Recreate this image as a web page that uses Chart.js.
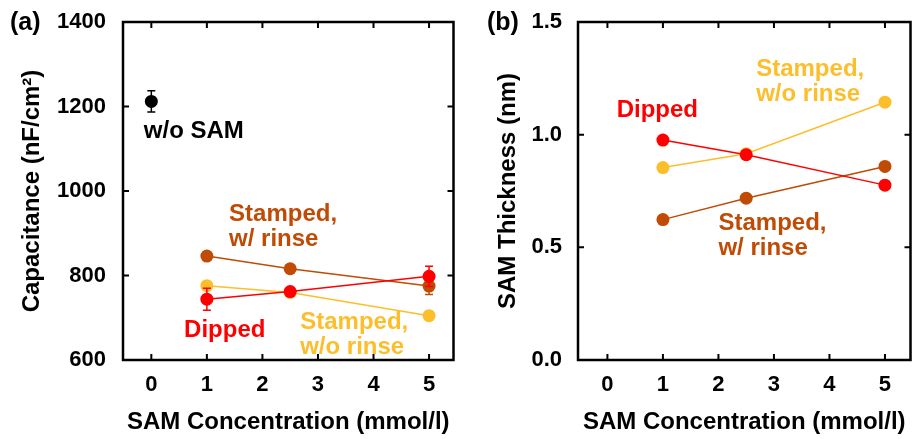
<!DOCTYPE html>
<html lang="en">
<head>
  <meta charset="UTF-8" />
  <title>SAM capacitance and thickness</title>
  <script src="https://cdn.jsdelivr.net/npm/chart.js"></script>
  <style>
    body { margin: 0; background: #fff; }
    #wrap { position: relative; width: 917px; height: 439px; }
    .panel { position: absolute; top: 0; height: 439px; }
    #panelA { left: 0; width: 460px; }
    #panelB { left: 460px; width: 457px; }
  </style>
</head>
<body>
  <div id="wrap">
    <div class="panel" id="panelA"><canvas id="capChart"></canvas></div>
    <div class="panel" id="panelB"><canvas id="thickChart"></canvas></div>
  </div>

  <script>
    // SAM concentration (mmol/l) for the three preparation methods
    const concentrations = [1, 2.5, 5];
    const xTicks = [0, 1, 2, 3, 4, 5];

    // (a) capacitance, nF/cm2
    const bareX = [0];
    const bareCap = [1212];
    const bareCapErr = [25];
    const dippedCap = [744, 762, 798];
    const dippedCapErr = [26, 0, 24];
    const rinsedCap = [846, 816, 775];
    const rinsedCapErr = [0, 0, 20];
    const unrinsedCap = [776, 760, 705];
    const unrinsedCapErr = [0, 0, 0];
    const capTicks = [600, 800, 1000, 1200, 1400];

    // (b) SAM thickness, nm
    const dippedThick = [0.976, 0.911, 0.776];
    const rinsedThick = [0.623, 0.718, 0.859];
    const unrinsedThick = [0.854, 0.915, 1.144];
    const thickTicks = [0, 0.5, 1.0, 1.5];

    const RED = "#ff0000";
    const BROWN = "#c04b05";
    const YELLOW = "#fdbe2c";
    const FONT = "'Liberation Sans', Arial, sans-serif";

    Chart.defaults.font.family = FONT;
    Chart.defaults.color = "#000";

    const pts = (xs, ys) => xs.map((x, i) => ({ x: x, y: ys[i] }));

    function series(data, color, errs) {
      return {
        data: data,
        borderColor: color,
        backgroundColor: color,
        borderWidth: 1.5,
        pointRadius: 6.5,
        pointBorderWidth: 0,
        pointHoverRadius: 6.5,
        errorBars: errs || null
      };
    }

    // error bars, drawn right after their own dataset
    const errorBarPlugin = {
      id: "errorBars",
      afterDatasetDraw(chart, args) {
        const ds = chart.data.datasets[args.index];
        if (!ds.errorBars) return;
        const { ctx, scales: { x, y } } = chart;
        ctx.save();
        ctx.strokeStyle = ds.borderColor;
        ctx.lineWidth = 1.5;
        ds.data.forEach((p, i) => {
          const e = ds.errorBars[i];
          if (!e) return;
          const px = x.getPixelForValue(p.x);
          const top = y.getPixelForValue(p.y + e);
          const bot = y.getPixelForValue(p.y - e);
          ctx.beginPath();
          ctx.moveTo(px, top); ctx.lineTo(px, bot);
          ctx.moveTo(px - 4, top); ctx.lineTo(px + 4, top);
          ctx.moveTo(px - 4, bot); ctx.lineTo(px + 4, bot);
          ctx.stroke();
        });
        ctx.restore();
      }
    };

    // closed frame with inward ticks on all four sides
    const framePlugin = {
      id: "frame",
      afterDraw(chart) {
        const { ctx, chartArea: a, scales: { x, y } } = chart;
        ctx.save();
        ctx.strokeStyle = "#000";
        ctx.lineWidth = 2;
        ctx.beginPath();
        x.ticks.forEach(t => {
          const px = x.getPixelForValue(t.value);
          ctx.moveTo(px, a.bottom); ctx.lineTo(px, a.bottom - 6);
          ctx.moveTo(px, a.top); ctx.lineTo(px, a.top + 6);
        });
        y.ticks.forEach(t => {
          const py = y.getPixelForValue(t.value);
          ctx.moveTo(a.left, py); ctx.lineTo(a.left + 6, py);
          ctx.moveTo(a.right, py); ctx.lineTo(a.right - 6, py);
        });
        ctx.stroke();
        ctx.lineWidth = 2.5;
        ctx.strokeRect(a.left, a.top, a.right - a.left, a.bottom - a.top);
        ctx.restore();
      }
    };

    // text labels next to the series, anchored in data units
    const notesPlugin = {
      id: "notes",
      afterDatasetsDraw(chart, args, opts) {
        const { ctx, scales: { x, y } } = chart;
        ctx.save();
        ctx.font = "bold 24px " + FONT;
        ctx.textBaseline = "alphabetic";
        ctx.textAlign = "left";
        (opts.items || []).forEach(n => {
          ctx.fillStyle = n.color;
          n.lines.forEach((line, i) => {
            ctx.fillText(line, x.getPixelForValue(n.x), y.getPixelForValue(n.y) + i * 25);
          });
        });
        if (opts.tag) {
          ctx.fillStyle = "#000";
          ctx.font = "bold 25px " + FONT;
          ctx.fillText(opts.tag, opts.tagX, 30);
        }
        ctx.restore();
      }
    };

    function makeChart(id, cfg) {
      return new Chart(document.getElementById(id), {
        type: "line",
        data: { datasets: cfg.datasets },
        options: {
          responsive: true,
          maintainAspectRatio: false,
          animation: false,
          layout: { padding: { top: 22, right: 3, left: 0, bottom: 0 } },
          plugins: {
            legend: { display: false },
            tooltip: { enabled: false },
            notes: cfg.notes
          },
          scales: {
            x: {
              type: "linear",
              min: cfg.xMin,
              max: cfg.xMax,
              afterBuildTicks: s => { s.ticks = xTicks.map(v => ({ value: v })); },
              ticks: { font: { size: 22, weight: "bold" }, padding: 12 },
              grid: { display: false, drawTicks: false },
              border: { display: false },
              title: {
                display: true,
                text: "SAM Concentration (mmol/l)",
                font: { size: 24, weight: "bold", lineHeight: 1 },
                padding: { top: 0, bottom: 5 }
              },
              afterFit: s => {
                s.height = 79;
                s.paddingLeft = 0;
                s.paddingRight = 0;
              }
            },
            y: {
              type: "linear",
              min: cfg.yTicks[0],
              max: cfg.yTicks[cfg.yTicks.length - 1],
              afterBuildTicks: s => { s.ticks = cfg.yTicks.map(v => ({ value: v })); },
              ticks: {
                font: { size: 22, weight: "bold" },
                padding: cfg.yPad,
                callback: cfg.yFormat
              },
              grid: { display: false, drawTicks: false },
              border: { display: false },
              title: {
                display: true,
                text: cfg.yTitle,
                font: { size: 24, weight: "bold", lineHeight: 1 },
                padding: { top: cfg.yTitlePad, bottom: 0 }
              },
              afterFit: s => {
                s.width = cfg.yWidth;
                s.paddingTop = 0;
                s.paddingBottom = 0;
              }
            }
          }
        },
        plugins: [errorBarPlugin, notesPlugin, framePlugin]
      });
    }

    makeChart("capChart", {
      xMin: -0.51, xMax: 5.44,
      yTicks: capTicks,
      yFormat: v => String(v),
      yTitle: "Capacitance (nF/cm²)",
      yTitlePad: 20,
      yPad: 17,
      yWidth: 123,
      datasets: [
        series(pts(concentrations, dippedCap), RED, dippedCapErr),
        series(pts(concentrations, rinsedCap), BROWN, rinsedCapErr),
        series(pts(concentrations, unrinsedCap), YELLOW, unrinsedCapErr),
        Object.assign(series(pts(bareX, bareCap), "#000", bareCapErr), { showLine: false })
      ],
      notes: {
        tag: "(a)", tagX: 10,
        items: [
          { lines: ["w/o SAM"], x: -0.135, y: 1125, color: "#000" },
          { lines: ["Stamped,", "w/ rinse"], x: 1.40, y: 929, color: BROWN },
          { lines: ["Dipped"], x: 0.59, y: 654, color: RED },
          { lines: ["Stamped,", "w/o rinse"], x: 2.68, y: 674, color: YELLOW }
        ]
      }
    });

    makeChart("thickChart", {
      xMin: -0.53, xMax: 5.46,
      yTicks: thickTicks,
      yFormat: v => v.toFixed(1),
      yTitle: "SAM Thickness (nm)",
      yTitlePad: 36,
      yPad: 16,
      yWidth: 118,
      datasets: [
        series(pts(concentrations, dippedThick), RED),
        series(pts(concentrations, rinsedThick), BROWN),
        series(pts(concentrations, unrinsedThick), YELLOW)
      ],
      notes: {
        tag: "(b)", tagX: 27,
        items: [
          { lines: ["Dipped"], x: 0.166, y: 1.079, color: RED },
          { lines: ["Stamped,", "w/o rinse"], x: 2.68, y: 1.26, color: YELLOW },
          { lines: ["Stamped,", "w/ rinse"], x: 2.0, y: 0.577, color: BROWN }
        ]
      }
    });
  </script>
</body>
</html>
